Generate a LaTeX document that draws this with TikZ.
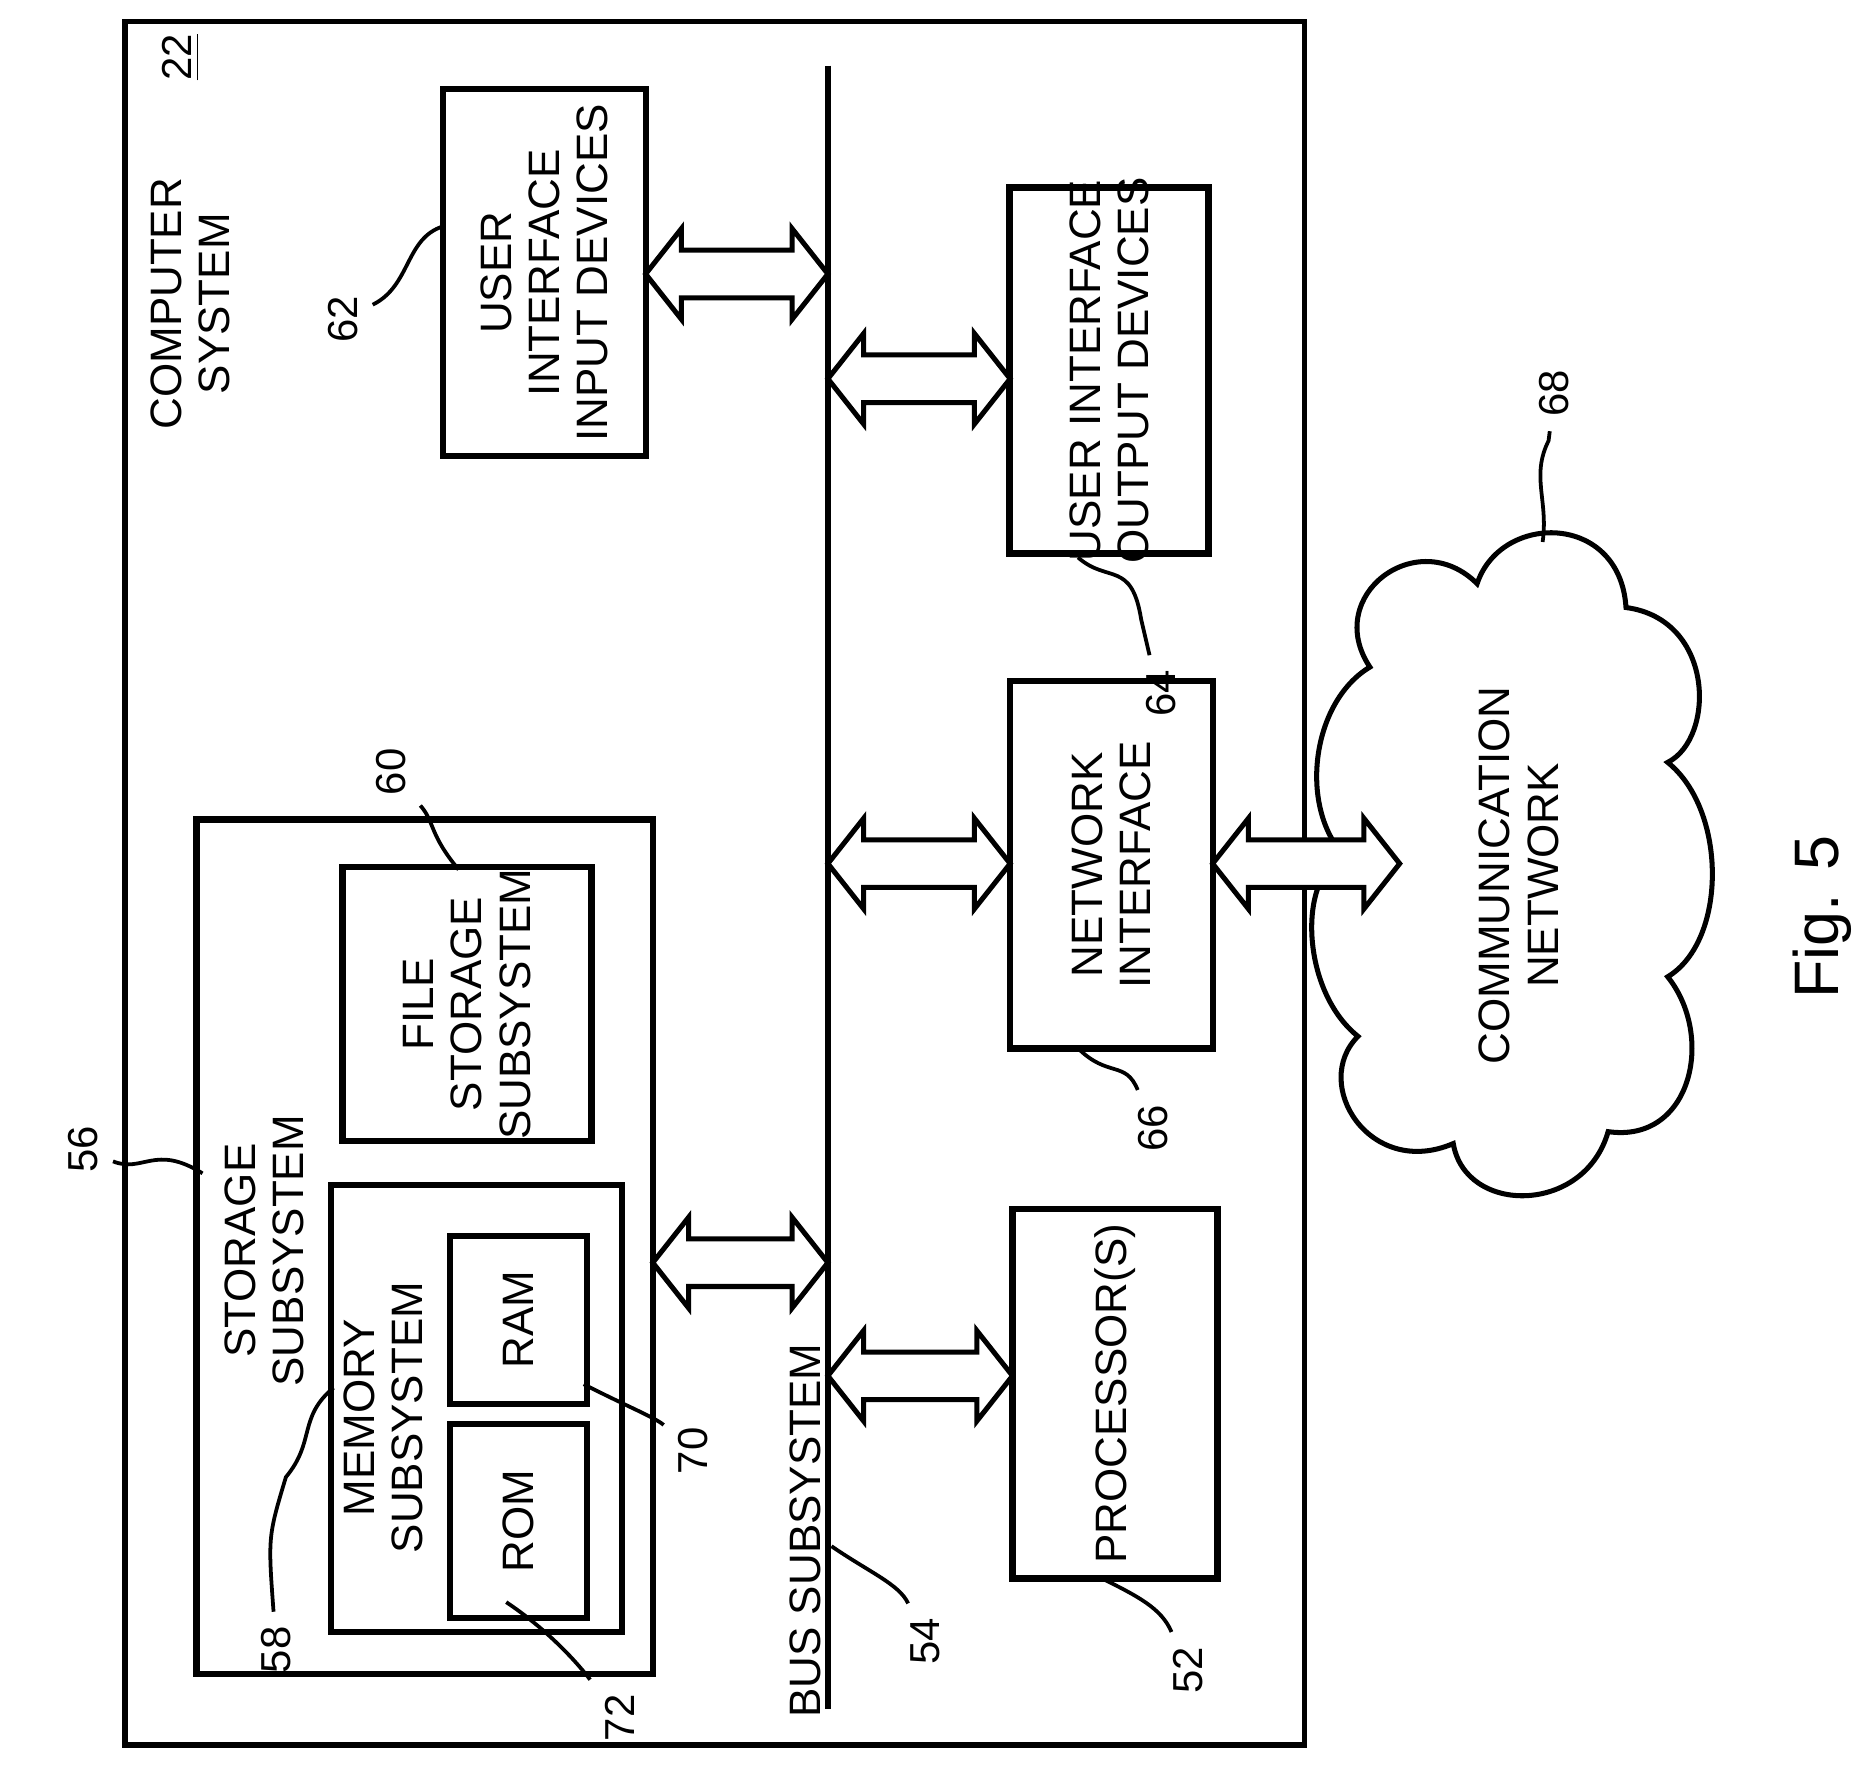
\documentclass[tikz,border=0pt]{standalone}
\usepackage{fontspec}
\setmainfont{Liberation Sans}
\begin{document}
\begin{tikzpicture}[x=0.01cm,y=-0.01cm,
  box/.style={draw,line width=1.5pt},
  lbl/.style={rotate=90,align=center,font=\fontsize{10.5}{11.5}\selectfont},
  num/.style={rotate=90,font=\fontsize{10}{11}\selectfont},
  lead/.style={line width=0.9pt}]
\useasboundingbox (0,0) rectangle (1569,1488);
\newcommand\darr[3]{% x1, x2, yc
  \draw[line width=1.2pt,fill=white] (#1,#3) -- (#1+30,#3-38) -- (#1+30,#3-20) -- (#2-30,#3-20) -- (#2-30,#3-38) -- (#2,#3) -- (#2-30,#3+38) -- (#2-30,#3+20) -- (#1+30,#3+20) -- (#1+30,#3+38) -- cycle;}
% outer
\draw[line width=1.3pt] (105,18) rectangle (1095,1465);
\coordinate (bt) at (695,55); \coordinate (bb) at (695,1435);
\draw[line width=1.3pt] (bt) -- (bb);
% storage
\draw[box] (165,688) rectangle (548,1405);
\draw[box] (278,995) rectangle (522,1370);
\node[box,minimum width=1.15cm,minimum height=1.63cm] (rom) at (435,1277) {};
\node[lbl] at (rom) {ROM};
\node[box,minimum width=1.15cm,minimum height=1.41cm] (ram) at (435,1108) {};
\node[lbl] at (ram) {RAM};
\node[lbl] at (222,1050) {STORAGE\\SUBSYSTEM};
\node[lbl] at (322,1190) {MEMORY\\SUBSYSTEM};
\node[box,minimum width=2.09cm,minimum height=2.3cm] (file) at (392,843) {};
\node[lbl] at (file) {FILE\\STORAGE\\SUBSYSTEM};
\node[box,minimum width=1.7cm,minimum height=3.08cm] (inp) at (457,229) {};
\node[lbl] at (inp) {USER\\INTERFACE\\INPUT DEVICES};
\node[lbl] at (160,255) {COMPUTER\\SYSTEM};
\node[num] at (152,48) {\underline{22}};
\node[box,minimum width=1.67cm,minimum height=3.07cm] (out) at (931,311) {};
\node[lbl] at (out) {USER INTERFACE\\OUTPUT DEVICES};
\node[box,minimum width=1.7cm,minimum height=3.08cm] (net) at (933,726) {};
\node[lbl] at (net) {NETWORK\\INTERFACE};
\node[box,minimum width=1.72cm,minimum height=3.1cm] (proc) at (936,1170) {};
\node[lbl] at (proc) {PROCESSOR(S)};
\node[rotate=90,font=\fontsize{10.5}{11.5}\selectfont] (bus) at (676,1285) {BUS SUBSYSTEM};
% cloud
\coordinate (cl) at (1275,735);
\draw[line width=1.2pt,fill=white] (1150,560)
  .. controls (1110,500) and (1190,440) .. (1240,490)
  .. controls (1260,430) and (1360,430) .. (1365,510)
  .. controls (1440,520) and (1440,620) .. (1400,640)
  .. controls (1450,680) and (1450,790) .. (1400,820)
  .. controls (1440,870) and (1420,960) .. (1350,950)
  .. controls (1330,1020) and (1230,1020) .. (1220,960)
  .. controls (1150,990) and (1100,910) .. (1140,870)
  .. controls (1090,830) and (1090,730) .. (1130,720)
  .. controls (1090,680) and (1100,590) .. cycle;
\node[lbl] at (cl) {COMMUNICATION\\NETWORK};
\node[rotate=90,font=\fontsize{15}{16}\selectfont] (fig) at (1530,770) {Fig. 5};
% arrows
\darr{542}{695}{230}
\darr{695}{848}{318}
\darr{695}{848}{725}
\darr{548}{695}{1060}
\darr{695}{850}{1155}
\darr{1018}{1175}{725}
% numbers + leaders
\node[num] (n56) at (70,965) {56};
\draw[lead] (170,985) .. controls (130,960) and (120,985) .. (n56);
\node[num] (n58) at (232,1385) {58};
\draw[lead] (280,1165) .. controls (250,1190) and (265,1210) .. (240,1240) .. controls (225,1290) .. (n58);
\node[num] (n60) at (328,648) {60};
\draw[lead] (385,730) .. controls (360,700) and (365,690) .. (n60);
\node[num] (n62) at (288,268) {62};
\draw[lead] (372,190) .. controls (340,200) and (345,240) .. (n62);
\node[num] (n64) at (975,582) {64};
\draw[lead] (905,468) .. controls (930,490) and (950,470) .. (958,520) .. controls (965,550) .. (n64);
\node[num] (n66) at (968,947) {66};
\draw[lead] (905,880) .. controls (930,905) and (945,890) .. (n66);
\node[num] (n52) at (997,1402) {52};
\draw[lead] (925,1325) .. controls (955,1340) and (975,1350) .. (n52);
\node[num] (n54) at (777,1378) {54};
\draw[lead] (698,1298) .. controls (730,1320) and (755,1330) .. (n54);
\node[num] (n70) at (582,1218) {70};
\draw[lead] (490,1162) .. controls (525,1180) and (550,1190) .. (n70);
\node[num] (n72) at (520,1442) {72};
\draw[lead] (425,1345) .. controls (455,1365) and (480,1390) .. (n72);
\node[num] (n68) at (1305,330) {68};
\draw[lead] (1295,455) .. controls (1300,420) and (1285,400) .. (1300,370) -- (n68);
\end{tikzpicture}
\end{document}
